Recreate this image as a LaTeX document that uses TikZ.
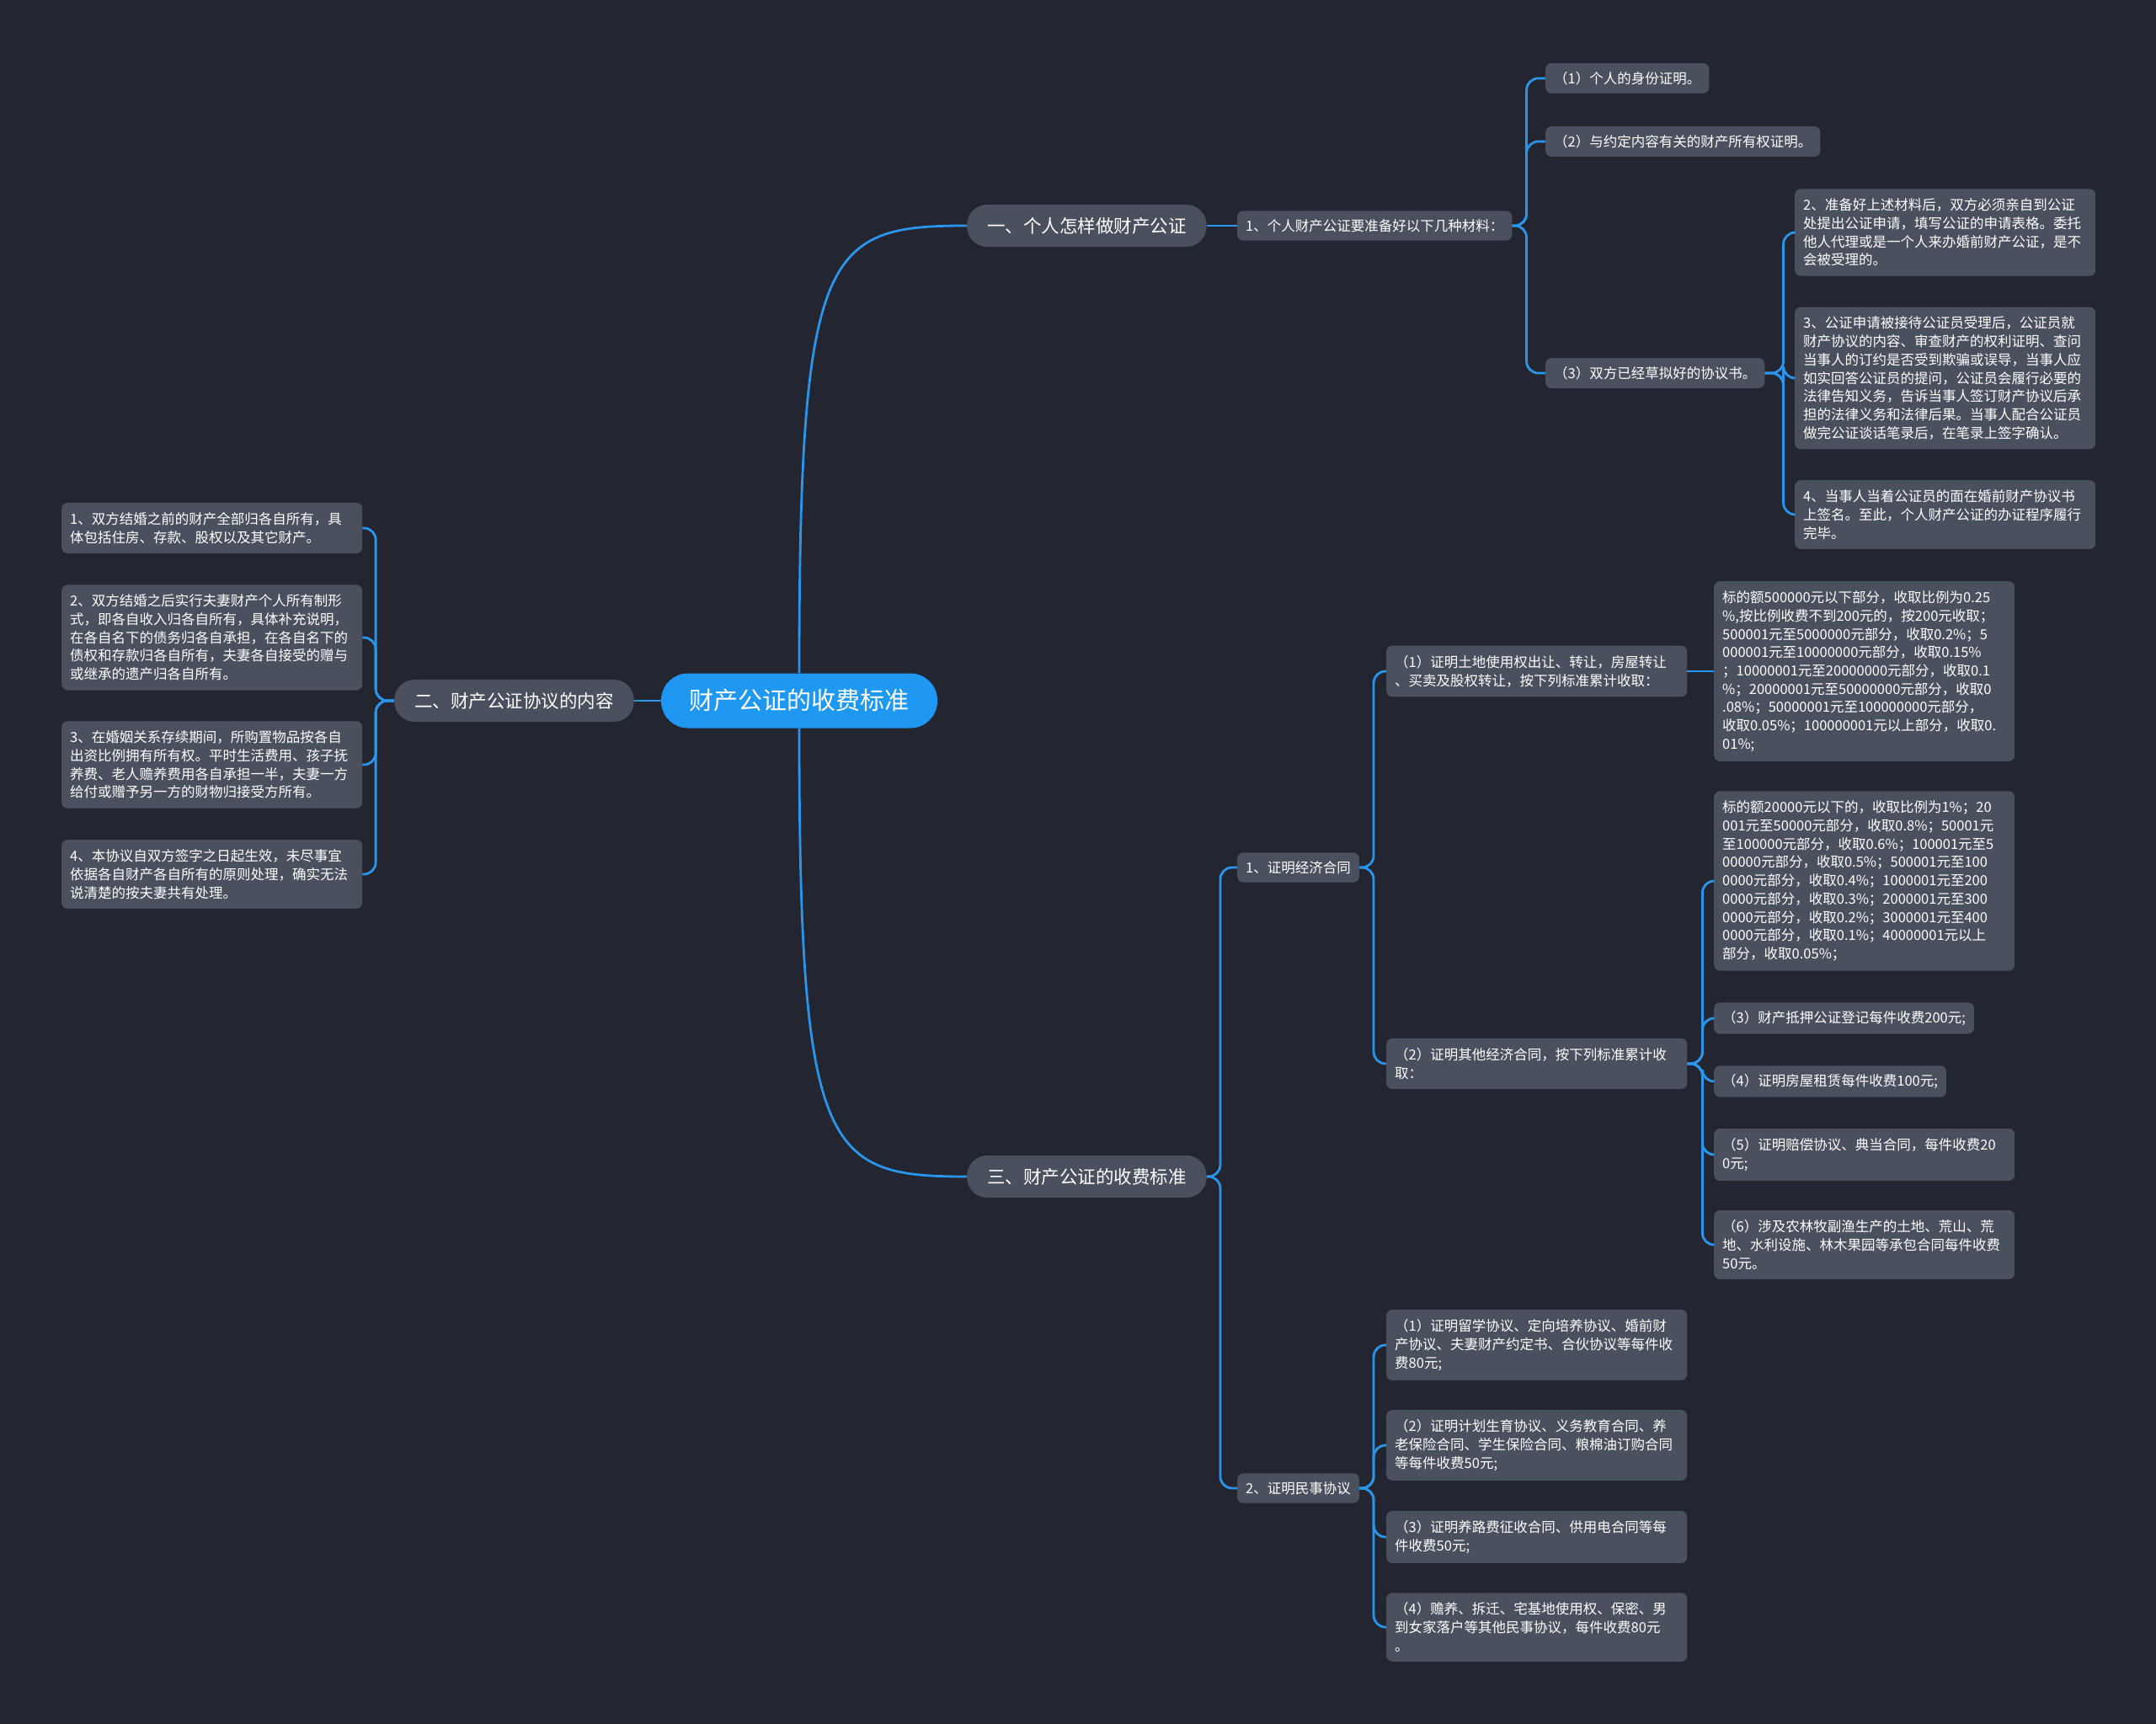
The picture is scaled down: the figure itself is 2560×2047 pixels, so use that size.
\documentclass[tikz,border=0pt]{standalone}
\usepackage{fontspec}
\setmainfont{Noto Sans CJK SC}
\definecolor{bgdark}{RGB}{35,38,48}
\definecolor{boxgray}{RGB}{74,80,94}
\definecolor{linkblue}{RGB}{41,150,235}
\definecolor{rootblue}{RGB}{30,152,242}

\begin{document}
\begin{tikzpicture}[
    x=1pt, y=-1pt,
    root/.style={fill=rootblue, text=white, rounded corners=32pt, minimum width=328pt, minimum height=65pt, font=\fontsize{29}{34}\selectfont},
    topic/.style={fill=boxgray, text=white, rounded corners=24pt, minimum height=50pt, inner xsep=24pt, font=\fontsize{21.5}{26}\selectfont},
    item/.style={fill=boxgray, text=white, rounded corners=7pt, inner xsep=10pt, inner ysep=10pt, anchor=west, font=\fontsize{16.5}{21.7}\selectfont},
    note/.style={item, inner ysep=11.5pt, text width=337pt, align=left},
    link/.style={draw=linkblue, line width=2.8pt, rounded corners=14pt}
]
\fill[bgdark] (0,0) rectangle (2560,2047);

% Centre and main topics
\node[root] (root) at (949,832) {财产公证的收费标准};
\node[topic, anchor=west] (yi) at (1148,268) {一、个人怎样做财产公证};
\node[topic, anchor=east] (er) at (753,832) {二、财产公证协议的内容};
\node[topic, anchor=west] (san) at (1148,1397) {三、财产公证的收费标准};

% Branch one
\node[item] (a1) at (1469,268) {1、个人财产公证要准备好以下几种材料：};
\node[item] (b1) at (1835,93) {（1）个人的身份证明。};
\node[item] (b2) at (1835,168) {（2）与约定内容有关的财产所有权证明。};
\node[item] (b3) at (1835,443) {（3）双方已经草拟好的协议书。};
\node[note] (c2) at (2131,276) {2、准备好上述材料后，双方必须亲自到公证\\处提出公证申请，填写公证的申请表格。委托\\他人代理或是一个人来办婚前财产公证，是不\\会被受理的。};
\node[note] (c3) at (2131,449) {3、公证申请被接待公证员受理后，公证员就\\财产协议的内容、审查财产的权利证明、查问\\当事人的订约是否受到欺骗或误导，当事人应\\如实回答公证员的提问，公证员会履行必要的\\法律告知义务，告诉当事人签订财产协议后承\\担的法律义务和法律后果。当事人配合公证员\\做完公证谈话笔录后，在笔录上签字确认。};
\node[note] (c4) at (2131,611) {4、当事人当着公证员的面在婚前财产协议书\\上签名。至此，个人财产公证的办证程序履行\\完毕。};

% Branch two
\node[note] (L1) at (73,627) {1、双方结婚之前的财产全部归各自所有，具\\体包括住房、存款、股权以及其它财产。};
\node[note] (L2) at (73,757) {2、双方结婚之后实行夫妻财产个人所有制形\\式，即各自收入归各自所有，具体补充说明，\\在各自名下的债务归各自承担，在各自名下的\\债权和存款归各自所有，夫妻各自接受的赠与\\或继承的遗产归各自所有。};
\node[note] (L3) at (73,908) {3、在婚姻关系存续期间，所购置物品按各自\\出资比例拥有所有权。平时生活费用、孩子抚\\养费、老人赡养费用各自承担一半，夫妻一方\\给付或赠予另一方的财物归接受方所有。};
\node[note] (L4) at (73,1038) {4、本协议自双方签字之日起生效，未尽事宜\\依据各自财产各自所有的原则处理，确实无法\\说清楚的按夫妻共有处理。};

% Branch three
\node[item] (ec) at (1469,1030) {1、证明经济合同};
\node[item] (ms) at (1469,1767) {2、证明民事协议};
\node[note] (ec1) at (1646,797) {（1）证明土地使用权出让、转让，房屋转让\\、买卖及股权转让，按下列标准累计收取：};
\node[note] (fee1) at (2035,797) {标的额500000元以下部分，收取比例为0.25\\\%,按比例收费不到200元的，按200元收取；\\500001元至5000000元部分，收取0.2\%；5\\000001元至10000000元部分，收取0.15\%\\；10000001元至20000000元部分，收取0.1\\\%；20000001元至50000000元部分，收取0\\.08\%；50000001元至100000000元部分，\\收取0.05\%；100000001元以上部分，收取0.\\01\%;};
\node[note] (ec2) at (1646,1263) {（2）证明其他经济合同，按下列标准累计收\\取：};
\node[note] (fee2) at (2035,1046) {标的额20000元以下的，收取比例为1\%；20\\001元至50000元部分，收取0.8\%；50001元\\至100000元部分，收取0.6\%；100001元至5\\00000元部分，收取0.5\%；500001元至100\\0000元部分，收取0.4\%；1000001元至200\\0000元部分，收取0.3\%；2000001元至300\\0000元部分，收取0.2\%；3000001元至400\\0000元部分，收取0.1\%；40000001元以上\\部分，收取0.05\%；};
\node[item] (ec3) at (2035,1209) {（3）财产抵押公证登记每件收费200元;};
\node[item] (ec4) at (2035,1284) {（4）证明房屋租赁每件收费100元;};
\node[note] (ec5) at (2035,1371) {（5）证明赔偿协议、典当合同，每件收费20\\0元;};
\node[note] (ec6) at (2035,1478) {（6）涉及农林牧副渔生产的土地、荒山、荒\\地、水利设施、林木果园等承包合同每件收费\\50元。};
\node[note] (m1) at (1646,1597) {（1）证明留学协议、定向培养协议、婚前财\\产协议、夫妻财产约定书、合伙协议等每件收\\费80元;};
\node[note] (m2) at (1646,1716) {（2）证明计划生育协议、义务教育合同、养\\老保险合同、学生保险合同、粮棉油订购合同\\等每件收费50元;};
\node[note] (m3) at (1646,1825) {（3）证明养路费征收合同、供用电合同等每\\件收费50元;};
\node[note] (m4) at (1646,1932) {（4）赡养、拆迁、宅基地使用权、保密、男\\到女家落户等其他民事协议，每件收费80元\\。};

% Connections
\draw[link] (root.north) .. controls (949,294) and (980,268) .. (yi.west);
\draw[link] (root.south) .. controls (949,1371) and (980,1397) .. (san.west);
\draw[link] (root.west) -- (er.east);

\draw[link] (yi.east) -- (a1.west);
\foreach \kid in {b1,b2,b3}
  \draw[link] (a1.east) -- ++(17,0) |- (\kid.west);
\foreach \kid in {c2,c3,c4}
  \draw[link] (b3.east) -- ++(22,0) |- (\kid.west);

\foreach \kid in {L1,L2,L3,L4}
  \draw[link] (er.west) -- ++(-22,0) |- (\kid.east);

\foreach \kid in {ec,ms}
  \draw[link] (san.east) -- ++(16,0) |- (\kid.west);
\foreach \kid in {ec1,ec2}
  \draw[link] (ec.east) -- ++(17,0) |- (\kid.west);
\draw[link] (ec1.east) -- (fee1.west);
\foreach \kid in {fee2,ec3,ec4,ec5,ec6}
  \draw[link] (ec2.east) -- ++(18,0) |- (\kid.west);
\foreach \kid in {m1,m2,m3,m4}
  \draw[link] (ms.east) -- ++(17,0) |- (\kid.west);

\end{tikzpicture}
\end{document}
